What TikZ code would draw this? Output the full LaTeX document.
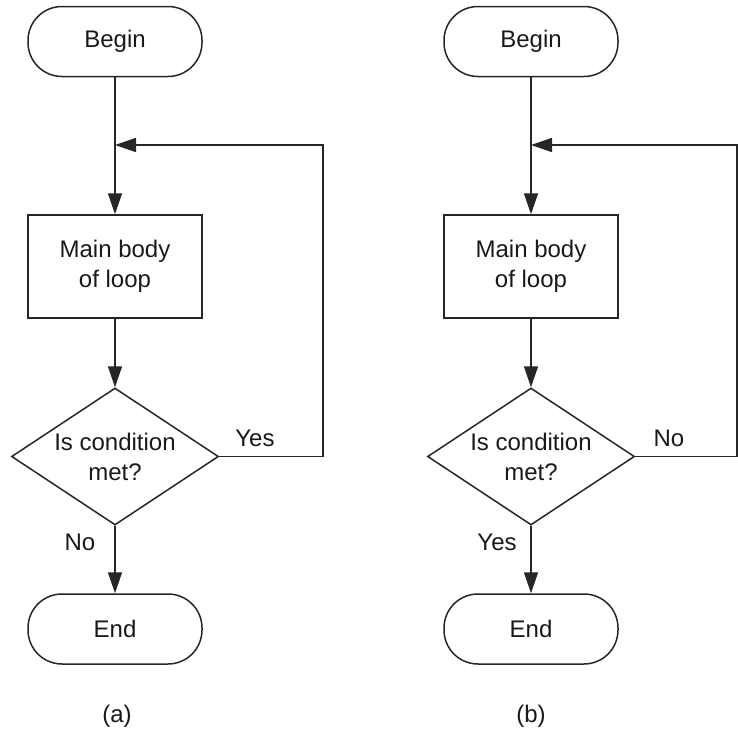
\documentclass[tikz,border=0pt]{standalone}
\usepackage{fontspec}
\setmainfont{Liberation Sans}
\usetikzlibrary{arrows.meta,shapes.geometric}
\begin{document}
\begin{tikzpicture}[x=1pt,y=-1pt,
  every node/.style={font=\fontsize{24}{30}\selectfont, text=black!90},
  line/.style={draw=black!85, line width=1.5pt},
  arr/.style={line, -{Triangle[length=21pt,width=14pt]}},
  term/.style={line, rectangle, rounded corners=34pt, minimum width=174pt, minimum height=70pt, inner sep=0pt},
  procbox/.style={line, rectangle, minimum width=174pt, minimum height=103pt, inner sep=0pt, align=center},
  decide/.style={line, diamond, minimum width=207pt, minimum height=137pt, inner sep=0pt},
  lbl/.style={inner sep=0pt, align=center}]
\useasboundingbox (0,0) rectangle (738,750);

% (a)
\node[term] (beginA) at (115,41.5) {Begin};
\node[procbox] (bodyA) at (115,266.5) {Main body\\of loop};
\node[decide] (decA) at (115,456.5) {};
\node[lbl] (decAt) at (115,457) {Is condition\\met?};
\node[term] (endA) at (115,629) {End};
\coordinate (joinA) at (115,145);
\coordinate (rtopA) at (323,145);
\coordinate (rbotA) at (323,456.5);
\draw[arr] (beginA.south) -- (bodyA.north);
\draw[arr] (bodyA.south) -- (decA.north);
\draw[arr] (decA.south) -- (endA.north);
\draw[arr] (decA.east) -- (rbotA) -- (rtopA) -- (joinA);
\node[lbl] (yesA) at (255,438) {Yes};
\node[lbl] (noA) at (80,542) {No};
\node[lbl] (capA) at (117,716) {(a)};

% (b)
\node[term] (beginB) at (531,41.5) {Begin};
\node[procbox] (bodyB) at (531,266.5) {Main body\\of loop};
\node[decide] (decB) at (531,456.5) {};
\node[lbl] (decBt) at (531,457) {Is condition\\met?};
\node[term] (endB) at (531,629) {End};
\coordinate (joinB) at (531,145);
\coordinate (rtopB) at (737,145);
\coordinate (rbotB) at (737,456.5);
\draw[arr] (beginB.south) -- (bodyB.north);
\draw[arr] (bodyB.south) -- (decB.north);
\draw[arr] (decB.south) -- (endB.north);
\draw[arr] (decB.east) -- (rbotB) -- (rtopB) -- (joinB);
\node[lbl] (noB) at (669,438) {No};
\node[lbl] (yesB) at (497,542) {Yes};
\node[lbl] (capB) at (531,716) {(b)};
\end{tikzpicture}
\end{document}
